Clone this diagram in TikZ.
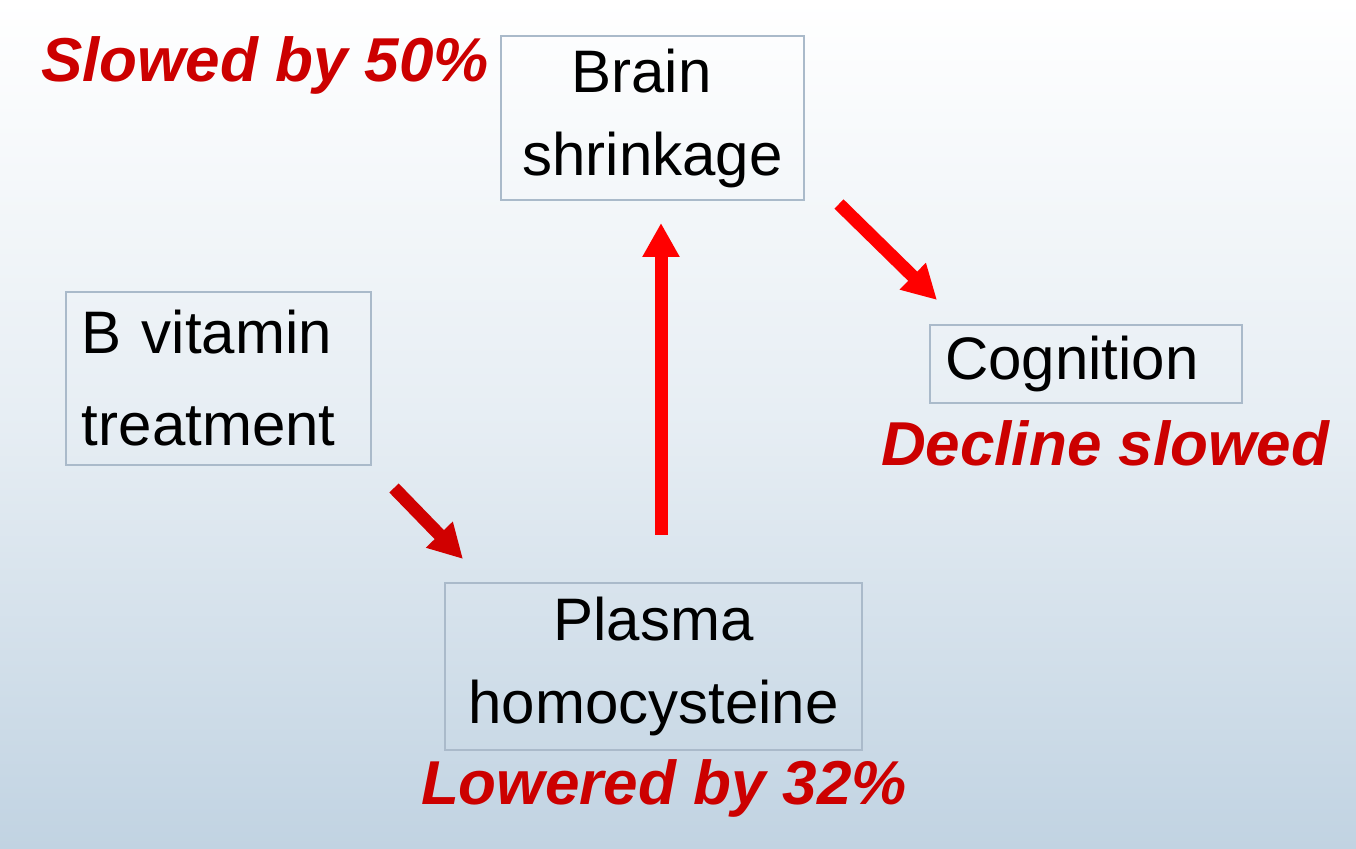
\documentclass[tikz,border=0pt]{standalone}
\usepackage{fontspec}
\setmainfont{Liberation Sans}
\usetikzlibrary{arrows.meta}
\definecolor{boxline}{RGB}{170,186,202}
\definecolor{bgbottom}{RGB}{193,211,226}
\definecolor{redtext}{RGB}{204,0,0}
\definecolor{darkarrow}{RGB}{208,0,0}
\definecolor{brightarrow}{RGB}{255,0,0}
\tikzset{
  box/.style={draw=boxline, line width=1pt, rectangle, inner sep=0pt,
    font=\fontsize{30}{41.5}\selectfont, text=black},
  note/.style={inner sep=0pt, text=redtext,
    font=\fontsize{31}{38}\selectfont\bfseries\itshape},
  bigarrow/.style={line width=6.5pt, -{Triangle[length=17pt,width=17.5pt]}}
}
\begin{document}
\begin{tikzpicture}[x=0.5pt,y=-0.5pt]
\shade[top color=white, bottom color=bgbottom, middle color=white!60!bgbottom, shading=axis]
  (0,0) rectangle (1356,849);
\useasboundingbox (0,0) rectangle (1356,849);

\node[box, minimum width=151.5pt, minimum height=82pt, align=center] (brain) at (652.5,118) {Brain\hspace*{11pt}\\shrinkage};
\node[box, minimum width=152.5pt, minimum height=86.5pt, text width=136.5pt, align=left,
  font=\fontsize{30}{46}\selectfont] (vit) at (218.5,378.5) {B vitamin\\treatment};
\node[box, minimum width=156pt, minimum height=39pt, text width=141pt, align=left] (cog) at (1086,364) {Cognition};
\node[box, minimum width=208.5pt, minimum height=83.5pt, align=center] (plasma) at (653.5,666.5) {Plasma\\homocysteine};

\node[note] (slowed) at (265,65) {Slowed by 50\%};
\node[note] (decline) at (1105,443) {Decline slowed};
\node[note] (lowered) at (664,788) {Lowered by 32\%};

\coordinate (a1s) at (394,488);
\coordinate (a1e) at (463,559);
\coordinate (a2s) at (661,535);
\coordinate (a2e) at (661,223);
\coordinate (a3s) at (839,204);
\coordinate (a3e) at (937,300);

\draw[bigarrow, darkarrow] (a1s) -- (a1e);
\draw[bigarrow, brightarrow] (a2s) -- (a2e);
\draw[bigarrow, brightarrow] (a3s) -- (a3e);
\end{tikzpicture}
\end{document}
